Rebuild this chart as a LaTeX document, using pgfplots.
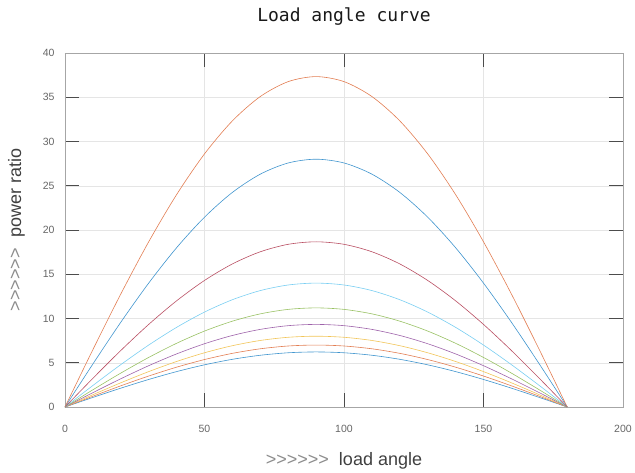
\documentclass[border=0pt]{standalone}
\usepackage{fontspec}
\setmainfont{Liberation Sans}
\newfontfamily\titlefont{DejaVu Sans Mono}
\usepackage{pgfplots}
\usepackage{pgfplotstable}
\pgfplotsset{compat=1.18}

\definecolor{oc1}{rgb}{0,0.447,0.741}
\definecolor{oc2}{rgb}{0.85,0.325,0.098}
\definecolor{oc3}{rgb}{0.929,0.694,0.125}
\definecolor{oc4}{rgb}{0.494,0.184,0.556}
\definecolor{oc5}{rgb}{0.466,0.674,0.188}
\definecolor{oc6}{rgb}{0.301,0.745,0.933}
\definecolor{oc7}{rgb}{0.635,0.078,0.184}

% six > signs, kept apart so that >> does not turn into a guillemet
\newcommand{\arrows}{>\kern0pt>\kern0pt>\kern0pt>\kern0pt>\kern0pt>}

% load angle (deg) vs power ratio, one column per curve
\pgfplotstableread{
x   i     h     g     f     e      d      c      b      a
0   0     0     0     0     0      0      0      0      0
10  1.080 1.216 1.389 1.621 1.945  2.431  3.241  4.862  6.483
20  2.128 2.394 2.736 3.192 3.831  4.788  6.384  9.577  12.769
30  3.111 3.500 4.000 4.667 5.600  7.000  9.333  14.000 18.667
40  4.000 4.500 5.142 5.999 7.199  8.999  11.999 17.998 23.997
50  4.766 5.362 6.128 7.150 8.580  10.725 14.300 21.449 28.599
60  5.389 6.062 6.928 8.083 9.699  12.124 16.166 24.249 32.332
70  5.847 6.578 7.518 8.770 10.525 13.156 17.541 26.311 35.082
80  6.128 6.894 7.878 9.191 11.030 13.787 18.383 27.575 36.766
90  6.222 7.000 8.000 9.333 11.200 14.000 18.667 28.000 37.333
100 6.128 6.894 7.878 9.191 11.030 13.787 18.383 27.575 36.766
110 5.847 6.578 7.518 8.770 10.525 13.156 17.541 26.311 35.082
120 5.389 6.062 6.928 8.083 9.699  12.124 16.166 24.249 32.332
130 4.766 5.362 6.128 7.150 8.580  10.725 14.300 21.449 28.599
140 4.000 4.500 5.142 5.999 7.199  8.999  11.999 17.998 23.997
150 3.111 3.500 4.000 4.667 5.600  7.000  9.333  14.000 18.667
160 2.128 2.394 2.736 3.192 3.831  4.788  6.384  9.577  12.769
170 1.080 1.216 1.389 1.621 1.945  2.431  3.241  4.862  6.483
180 0     0     0     0     0      0      0      0      0
}\loadtab

\begin{document}
\begin{tikzpicture}
\useasboundingbox (-65pt,-65pt) rectangle (570pt,407pt);
\begin{axis}[
  at={(0,0)}, anchor=south west,
  scale only axis,
  width=558pt, height=354pt,
  xmin=0, xmax=200, ymin=0, ymax=40,
  xtick={0,50,...,200},
  ytick={0,5,...,40},
  /pgf/number format/assume math mode=true,
  tick label style={font=\fontsize{10.5}{12}\selectfont, text=black!60},
  xticklabel style={yshift=-15pt},
  yticklabel style={xshift=-7pt},
  tick align=inside,
  major tick length=14pt,
  tick style={black!70, line width=0.9pt},
  axis line style={black!35, line width=0.8pt},
  grid=major,
  grid style={black!10, line width=0.4pt},
  title={Load angle curve},
  title style={font=\titlefont\fontsize{18}{20}\selectfont, text=black!90,
    at={(0.5,1)}, anchor=base, yshift=26pt},
  xlabel={{\color{black!45}\arrows}\ \ load angle},
  ylabel={{\color{black!45}\arrows}\ \ power ratio},
  label style={font=\fontsize{18}{20}\selectfont, text=black!75},
  xlabel style={at={(axis description cs:0.5,-0.153)}, anchor=center},
  ylabel style={at={(axis description cs:-0.087,0.5)}, anchor=center},
  every axis plot/.append style={line width=0.6pt, smooth},
]
\addplot[oc1!75] table[x=x, y=i] {\loadtab};
\addplot[oc2!75] table[x=x, y=h] {\loadtab};
\addplot[oc3!75] table[x=x, y=g] {\loadtab};
\addplot[oc4!75] table[x=x, y=f] {\loadtab};
\addplot[oc5!75] table[x=x, y=e] {\loadtab};
\addplot[oc6!75] table[x=x, y=d] {\loadtab};
\addplot[oc7!75] table[x=x, y=c] {\loadtab};
\addplot[oc1!75] table[x=x, y=b] {\loadtab};
\addplot[oc2!75] table[x=x, y=a] {\loadtab};
\end{axis}
\end{tikzpicture}
\end{document}
